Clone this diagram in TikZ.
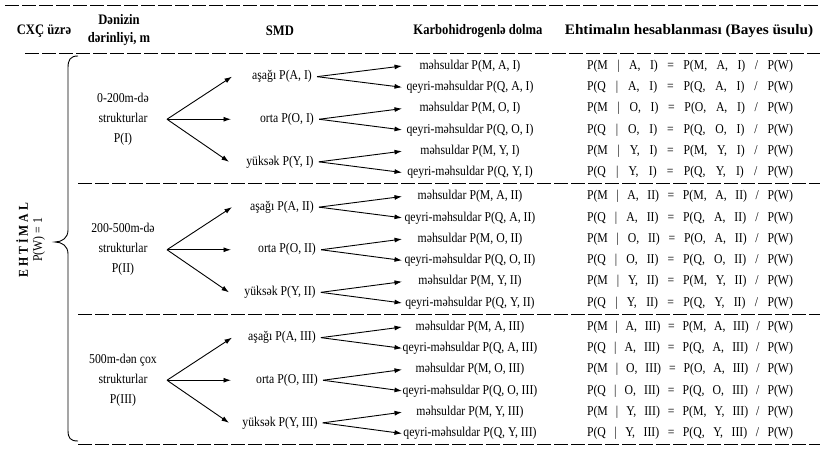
\documentclass[tikz,border=0pt]{standalone}
\usepackage{fontspec}
\setmainfont[FakeStretch=0.87]{Liberation Serif}
\newfontfamily\widerfont[FakeStretch=1.05]{Liberation Serif}
\usetikzlibrary{arrows.meta}
\begin{document}
\begin{tikzpicture}[x=1pt,y=-1pt,
  hdr/.style={font=\fontsize{14.5}{18}\selectfont\bfseries, align=center, inner sep=1pt},
  txt/.style={font=\fontsize{13.5}{20}\selectfont, inner sep=1pt},
  frm/.style={font=\fontsize{13.5}{16}\selectfont, inner sep=1pt},
  arr/.style={-{Latex[length=7.5pt,width=5pt]}, line width=0.9pt},
  sepline/.style={dash pattern=on 14pt off 3pt, line width=0.75pt},
  brace/.style={line width=0.9pt}]
\useasboundingbox (0,0) rectangle (820,454);
% header
\node[hdr] (h1) at (44,31) {CXÇ üzrə};
\node[hdr] (h2) at (119,30) {Dənizin\\dərinliyi, m};
\node[hdr] (h3) at (280,31) {SMD};
\node[hdr] (h4) at (478,31) {Karbohidrogenlə dolma};
\node[hdr, font=\widerfont\fontsize{14.5}{18}\selectfont\bfseries] (h5) at (689,31) {Ehtimalın hesablanması (Bayes üsulu)};
% separators
\draw[sepline] (5,5) -- (820,5);
\draw[sepline] (25,53) -- (820,53);
\draw[sepline] (78,183.5) -- (820,183.5);
\draw[sepline] (78,314) -- (820,314);
\draw[sepline] (78,444.5) -- (820,444.5);
% brace and left label
\draw[brace] (78,56) .. controls (70,56) and (68,60) .. (68,68) -- (68,230)
  .. controls (68,238) and (62,242) .. (55,242)
  .. controls (62,242) and (68,246) .. (68,254) -- (68,430)
  .. controls (68,438) and (70,441) .. (78,441);
\node[font=\fontsize{13.5}{15}\selectfont\bfseries, rotate=90, inner sep=0pt] (ehtimal) at (22,240) {E H T İ M A L};
\node[font=\fontsize{13.5}{15}\selectfont, rotate=90, inner sep=0pt] (pw) at (39,240) {P(W) = 1};
% sections
\foreach \s/\R/\L/\lab in {1/I/53/{0-200m-də\\strukturlar\\P(I)},
                           2/II/183.5/{200-500m-də\\strukturlar\\P(II)},
                           3/III/314/{500m-dən çox\\strukturlar\\P(III)}} {
  \node[txt, align=center] (sec\s) at (123,\L+66.25) {\lab};
  \coordinate (f\s) at (167,\L+66.25);
  \node[txt] (a\s) at (282,\L+23.65) {aşağı P(A, \R)};
  \node[txt] (o\s) at (287,\L+66.25) {orta P(O, \R)};
  \node[txt] (y\s) at (280,\L+108.85) {yüksək P(Y, \R)};
  \coordinate (ta\s) at (232,\L+23.65);
  \coordinate (to\s) at (231,\L+66.25);
  \coordinate (ty\s) at (229,\L+108.85);
  \draw[arr] (f\s) -- (ta\s);
  \draw[arr] (f\s) -- (to\s);
  \draw[arr] (f\s) -- (ty\s);
  % third column
  \node[txt] (c\s0) at (470,\L+13)    {məhsuldar P(M, A, \R)};
  \node[txt] (c\s1) at (470,\L+34.3)  {qeyri-məhsuldar P(Q, A, \R)};
  \node[txt] (c\s2) at (470,\L+55.6)  {məhsuldar P(M, O, \R)};
  \node[txt] (c\s3) at (470,\L+76.9)  {qeyri-məhsuldar P(Q, O, \R)};
  \node[txt] (c\s4) at (470,\L+98.2)  {məhsuldar P(M, Y, \R)};
  \node[txt] (c\s5) at (470,\L+119.5) {qeyri-məhsuldar P(Q, Y, \R)};
  \foreach \i/\dy in {0/13,1/34.3,2/55.6,3/76.9,4/98.2,5/119.5} {
    \coordinate (t\s\i) at (402,\L+\dy);
  }
  \draw[arr] ([xshift=4pt]a\s.east) -- (t\s0);
  \draw[arr] ([xshift=4pt]a\s.east) -- (t\s1);
  \draw[arr] ([xshift=4pt]o\s.east) -- (t\s2);
  \draw[arr] ([xshift=4pt]o\s.east) -- (t\s3);
  \draw[arr] ([xshift=4pt]y\s.east) -- (t\s4);
  \draw[arr] ([xshift=4pt]y\s.east) -- (t\s5);
  % formulas
  \node[frm] (e\s0) at (690,\L+13)    {\makebox[206pt][s]{P(M | A, \R) = P(M, A, \R) / P(W)}};
  \node[frm] (e\s1) at (690,\L+34.3)  {\makebox[206pt][s]{P(Q | A, \R) = P(Q, A, \R) / P(W)}};
  \node[frm] (e\s2) at (690,\L+55.6)  {\makebox[206pt][s]{P(M | O, \R) = P(O, A, \R) / P(W)}};
  \node[frm] (e\s3) at (690,\L+76.9)  {\makebox[206pt][s]{P(Q | O, \R) = P(Q, O, \R) / P(W)}};
  \node[frm] (e\s4) at (690,\L+98.2)  {\makebox[206pt][s]{P(M | Y, \R) = P(M, Y, \R) / P(W)}};
  \node[frm] (e\s5) at (690,\L+119.5) {\makebox[206pt][s]{P(Q | Y, \R) = P(Q, Y, \R) / P(W)}};
}
\end{tikzpicture}
\end{document}
